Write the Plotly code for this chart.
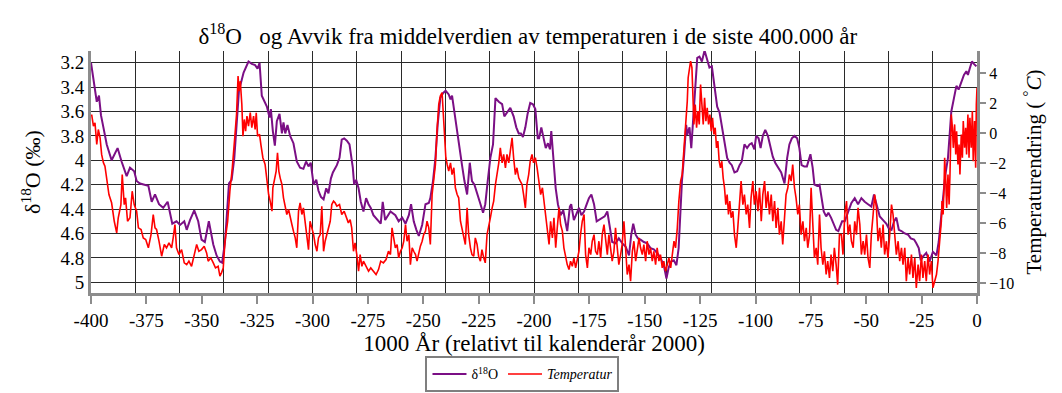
import plotly.graph_objects as go

# ---- data ----
d18o_years = [-400.0, -398.9, -397.4, -396.4, -395.5, -394.4, -392.9, -390.7, -388.0, -386.2,
              -383.9, -382.4, -380.5, -379.4, -377.9, -374.1, -372.6, -371.1, -369.3, -367.4,
              -365.4, -363.3, -361.4, -359.8, -357.9, -356.8, -355.3, -353.4, -351.6, -350.1,
              -348.6, -346.8, -344.8, -343.3, -341.8, -340.8, -339.5, -337.7, -336.5, -335.3,
              -334.3, -333.2, -331.1, -328.9, -327.4, -325.9, -324.8, -323.9, -322.9, -321.4,
              -320.6, -319.4, -318.8, -317.9, -317.0, -316.1, -314.9, -313.8, -313.1, -312.3,
              -311.3, -310.1, -308.6, -307.1, -305.6, -304.1, -302.9, -301.8, -300.8, -299.5,
              -298.3, -297.3, -296.2, -295.0, -293.8, -292.8, -291.7, -290.8, -289.0, -287.8,
              -286.8, -285.7, -284.5, -283.3, -281.8, -281.2, -280.3, -279.2, -278.2, -277.0,
              -275.8, -274.7, -273.7, -272.5, -270.7, -269.2, -268.3, -267.2, -264.8, -262.6,
              -261.1, -259.5, -258.0, -256.5, -255.5, -254.3, -253.1, -252.0, -250.5, -249.0,
              -247.5, -246.8, -245.6, -244.5, -243.5, -242.3, -241.1, -239.9, -238.5, -237.7,
              -237.0, -235.9, -234.8, -233.6, -232.5, -231.4, -230.2, -229.0, -228.0, -226.9,
              -225.7, -224.5, -223.0, -222.0, -220.9, -219.7, -218.5, -217.4, -215.9, -214.4,
              -213.4, -212.2, -210.7, -209.2, -208.0, -206.9, -205.9, -205.0, -203.9, -202.9,
              -201.7, -200.5, -199.4, -198.3, -197.7, -196.7, -195.5, -194.7, -193.7, -192.8,
              -192.2, -191.3, -190.2, -189.2, -188.0, -186.8, -185.7, -185.0, -183.8, -183.2,
              -182.0, -180.8, -179.7, -178.6, -177.4, -176.2, -175.2, -174.1, -172.9, -171.7,
              -170.7, -169.2, -168.1, -166.9, -165.7, -164.7, -163.2, -161.7, -160.2, -158.6,
              -157.1, -156.1, -155.2, -154.1, -153.1, -151.9, -150.4, -148.9, -147.4, -145.9,
              -144.4, -142.9, -141.4, -140.2, -139.2, -138.1, -136.9, -135.7, -134.7, -134.0,
              -133.2, -132.2, -131.3, -130.8, -129.8, -129.0, -128.3, -127.5, -126.3, -125.3,
              -124.2, -123.0, -121.8, -120.8, -119.7, -118.5, -117.3, -116.2, -115.2, -114.0,
              -112.8, -111.7, -110.7, -109.5, -108.3, -107.2, -106.2, -105.0, -103.8, -102.7,
              -101.7, -100.5, -99.7, -98.6, -97.7, -96.7, -95.6, -94.4, -93.2, -92.2,
              -91.1, -89.9, -88.4, -86.9, -85.7, -84.7, -83.6, -82.4, -81.2, -80.2,
              -79.2, -78.0, -76.8, -75.2, -74.2, -73.4, -72.2, -71.1, -70.1, -69.2,
              -68.1, -67.1, -65.9, -64.7, -63.6, -62.6, -60.9, -59.7, -58.2, -56.7,
              -55.2, -53.7, -52.2, -50.7, -49.2, -47.7, -46.5, -45.4, -43.9, -42.4,
              -40.9, -39.8, -38.6, -37.4, -36.4, -35.3, -34.1, -32.6, -31.1, -29.9,
              -28.4, -27.4, -26.3, -25.4, -24.4, -22.9, -21.4, -19.9, -18.3, -17.3,
              -16.4, -15.3, -14.3, -13.1, -12.3, -11.6, -10.4, -9.3, -8.3, -7.1,
              -5.9, -4.8, -4.1, -3.3, -2.3, -1.4, -0.3]
d18o_values = [3.20, 3.35, 3.52, 3.47, 3.63, 3.73, 3.87, 4.00, 3.90, 4.01,
               4.13, 4.06, 4.09, 4.17, 4.19, 4.21, 4.34, 4.28, 4.36, 4.39,
               4.34, 4.52, 4.50, 4.53, 4.50, 4.57, 4.49, 4.41, 4.50, 4.65,
               4.67, 4.50, 4.69, 4.78, 4.83, 4.84, 4.67, 4.19, 4.16, 3.98,
               3.68, 3.43, 3.28, 3.19, 3.21, 3.22, 3.25, 3.20, 3.47, 3.53,
               3.56, 3.65, 3.58, 3.76, 3.88, 3.68, 3.62, 3.78, 3.69, 3.78,
               3.71, 3.80, 3.86, 4.01, 4.06, 4.07, 4.01, 4.05, 4.02, 4.20,
               4.16, 4.25, 4.30, 4.32, 4.23, 4.27, 4.15, 4.10, 4.04, 3.98,
               3.83, 3.82, 3.84, 3.87, 4.06, 4.20, 4.16, 4.23, 4.34, 4.42,
               4.31, 4.36, 4.39, 4.45, 4.49, 4.52, 4.34, 4.49, 4.42, 4.45,
               4.50, 4.47, 4.52, 4.45, 4.36, 4.50, 4.57, 4.62, 4.53, 4.36,
               4.35, 4.31, 4.17, 3.98, 3.71, 3.49, 3.45, 3.43, 3.46, 3.50,
               3.47, 3.62, 3.73, 3.90, 4.04, 4.17, 4.28, 4.02, 4.17, 4.20,
               4.28, 4.34, 4.43, 4.36, 4.17, 3.98, 3.87, 3.49, 3.52, 3.54,
               3.64, 3.61, 3.57, 3.64, 3.73, 3.78, 3.78, 3.81, 3.73, 3.62,
               3.53, 3.54, 3.58, 3.82, 3.82, 3.73, 3.84, 3.90, 3.86, 3.91,
               3.76, 4.01, 4.23, 4.36, 4.45, 4.41, 4.50, 4.58, 4.38, 4.36,
               4.49, 4.43, 4.39, 4.45, 4.42, 4.36, 4.31, 4.28, 4.36, 4.50,
               4.49, 4.47, 4.46, 4.42, 4.56, 4.67, 4.68, 4.64, 4.68, 4.71,
               4.78, 4.61, 4.52, 4.61, 4.64, 4.65, 4.67, 4.68, 4.72, 4.73,
               4.76, 4.80, 4.86, 4.97, 4.88, 4.83, 4.82, 4.86, 4.72, 4.39,
               4.17, 3.95, 3.71, 3.79, 3.73, 3.90, 3.71, 3.46, 3.16, 3.15,
               3.19, 3.10, 3.19, 3.24, 3.23, 3.38, 3.56, 3.61, 3.73, 3.84,
               3.98, 4.02, 4.04, 4.10, 4.09, 4.04, 4.01, 3.87, 3.90, 3.87,
               3.86, 3.91, 3.80, 3.82, 3.90, 3.80, 3.75, 3.80, 3.90, 3.97,
               4.02, 4.06, 4.10, 4.19, 3.98, 3.87, 3.82, 3.80, 3.82, 3.90,
               4.04, 4.05, 4.05, 3.95, 4.06, 4.20, 4.21, 4.20, 4.34, 4.42,
               4.46, 4.43, 4.47, 4.53, 4.57, 4.58, 4.50, 4.50, 4.42, 4.35,
               4.31, 4.36, 4.31, 4.34, 4.36, 4.38, 4.28, 4.36, 4.46, 4.49,
               4.52, 4.56, 4.57, 4.50, 4.47, 4.57, 4.58, 4.60, 4.61, 4.64,
               4.65, 4.68, 4.72, 4.82, 4.79, 4.76, 4.83, 4.75, 4.78, 4.67,
               4.50, 4.28, 4.12, 3.98, 3.79, 3.60, 3.49, 3.39, 3.42, 3.35,
               3.30, 3.27, 3.30, 3.25, 3.19, 3.21, 3.23]

temp_years = [-399.7, -398.9, -398.2, -397.4, -396.7, -395.9, -395.2, -394.4, -393.7, -392.9,
              -391.9, -390.7, -389.5, -388.4, -387.7, -386.5, -385.9, -385.0, -384.4, -383.5,
              -382.4, -381.4, -380.5, -379.4, -378.6, -377.4, -376.4, -375.3, -374.1, -372.9,
              -371.9, -371.1, -370.4, -369.3, -368.1, -366.9, -365.9, -364.8, -363.6, -362.9,
              -362.1, -361.4, -360.3, -359.1, -357.9, -356.8, -355.8, -354.6, -353.4, -352.3,
              -351.3, -350.1, -348.9, -347.8, -347.1, -345.9, -344.8, -343.8, -342.6, -341.8,
              -341.1, -340.3, -339.5, -338.3, -337.3, -336.2, -335.0, -334.3, -333.6, -333.2,
              -332.6, -331.9, -331.4, -330.8, -330.2, -329.6, -328.9, -328.1, -327.4, -326.6,
              -325.9, -325.4, -324.8, -323.9, -323.3, -322.4, -321.4, -320.6, -319.8, -319.1,
              -318.3, -317.9, -317.3, -316.4, -315.8, -315.2, -314.6, -313.8, -313.1, -312.3,
              -311.6, -310.8, -310.1, -309.3, -308.6, -307.8, -307.1, -306.3, -305.6, -304.8,
              -304.1, -303.3, -302.6, -301.8, -301.1, -300.3, -299.5, -298.8, -298.0, -297.3,
              -296.5, -295.8, -295.0, -294.3, -293.5, -292.8, -292.0, -291.3, -290.5, -289.8,
              -289.0, -287.8, -286.8, -285.7, -284.8, -283.8, -283.0, -282.3, -281.5, -280.8,
              -280.0, -279.2, -278.5, -277.7, -277.0, -275.8, -274.7, -273.7, -272.5, -271.3,
              -270.2, -269.2, -268.0, -266.8, -265.7, -264.8, -264.1, -263.3, -262.6, -261.8,
              -261.1, -260.3, -259.5, -258.8, -258.0, -257.3, -256.5, -255.8, -255.0, -254.3,
              -253.5, -252.8, -252.0, -251.3, -250.5, -249.8, -249.0, -248.3, -247.5, -246.8,
              -246.0, -245.3, -244.5, -243.8, -243.0, -242.3, -241.5, -241.1, -240.5, -239.8,
              -239.2, -238.5, -237.7, -237.0, -236.2, -235.5, -234.7, -234.0, -233.2, -232.5,
              -231.7, -231.0, -230.2, -229.5, -228.7, -228.0, -227.2, -226.5, -225.7, -225.0,
              -224.2, -223.5, -222.7, -222.0, -221.2, -220.5, -219.7, -218.9, -218.2, -217.4,
              -216.7, -215.9, -215.2, -214.4, -213.7, -212.9, -212.2, -211.4, -210.7, -209.9,
              -209.2, -208.4, -207.7, -206.9, -206.2, -205.4, -204.7, -203.9, -203.2, -202.4,
              -201.7, -200.9, -200.2, -199.4, -198.6, -197.9, -197.0, -196.2, -195.5, -194.7,
              -194.0, -193.2, -192.5, -191.7, -191.0, -190.2, -189.5, -188.7, -188.0, -187.2,
              -186.5, -185.7, -185.0, -184.2, -183.5, -182.7, -182.0, -181.2, -180.5, -179.7,
              -179.0, -178.2, -177.4, -176.7, -175.9, -175.2, -174.4, -173.7, -172.9, -172.2,
              -171.4, -170.7, -169.9, -169.2, -168.4, -167.7, -166.9, -166.2, -165.4, -164.7,
              -163.9, -163.2, -162.4, -161.7, -160.9, -160.2, -159.4, -158.6, -157.9, -157.1,
              -156.4, -155.6, -154.9, -154.1, -153.4, -152.6, -151.9, -151.1, -150.4, -149.6,
              -148.9, -148.1, -147.4, -146.6, -145.9, -145.1, -144.4, -143.6, -142.9, -142.1,
              -141.4, -140.6, -139.8, -139.1, -138.3, -137.6, -136.8, -136.1, -135.3, -134.6,
              -133.8, -133.1, -132.3, -131.6, -130.8, -130.4, -129.9, -129.3, -128.7, -128.3,
              -127.8, -127.2, -126.6, -126.0, -125.4, -124.8, -124.2, -123.6, -123.0, -122.4,
              -121.8, -121.2, -120.6, -120.0, -119.4, -118.8, -118.2, -117.6, -117.0, -116.4,
              -115.8, -115.2, -114.6, -114.0, -113.4, -112.8, -112.2, -111.6, -111.0, -110.2,
              -109.5, -108.7, -108.0, -107.2, -106.5, -105.7, -105.0, -104.2, -103.5, -102.7,
              -102.0, -101.2, -100.5, -99.7, -98.9, -98.2, -97.4, -96.7, -95.9, -95.2,
              -94.4, -93.7, -92.9, -92.2, -91.4, -90.7, -89.9, -89.2, -88.4, -87.7,
              -86.9, -86.2, -85.4, -84.7, -83.9, -83.2, -82.4, -81.7, -80.9, -80.2,
              -79.4, -78.6, -77.9, -77.1, -76.4, -75.6, -74.9, -74.1, -73.4, -72.6,
              -71.9, -71.1, -70.4, -69.6, -68.9, -68.1, -67.4, -66.6, -65.9, -65.1,
              -64.4, -63.6, -62.9, -62.1, -61.2, -60.5, -59.7, -58.9, -58.2, -57.4,
              -56.7, -55.9, -55.2, -54.4, -53.7, -52.9, -52.2, -51.4, -50.7, -49.9,
              -49.2, -48.4, -47.7, -46.9, -46.2, -45.4, -44.7, -43.9, -43.2, -42.4,
              -41.7, -40.9, -40.2, -39.4, -38.6, -37.9, -37.1, -36.4, -35.6, -34.9,
              -34.1, -33.4, -32.6, -31.9, -31.1, -30.4, -29.6, -28.9, -28.1, -27.4,
              -26.6, -25.9, -25.1, -24.4, -23.6, -22.9, -22.1, -21.4, -20.6, -19.9,
              -19.1, -18.3, -17.6, -16.8, -16.1, -15.8, -15.3, -14.9, -14.6, -14.1,
              -13.7, -13.1, -12.6, -12.2, -11.9, -11.6, -11.1, -10.7, -10.1, -9.6,
              -9.2, -8.6, -8.1, -7.7, -7.1, -6.6, -6.2, -5.6, -5.1, -4.7,
              -4.1, -3.6, -3.2, -2.6, -2.1, -1.7, -1.1, -0.6, -0.3, 0.0]
temp_values = [1.24, 0.47, 0.69, -0.76, 0.24, -0.31, -1.42, -1.97, -2.20, -3.20,
               -4.09, -4.64, -5.87, -6.64, -5.64, -4.76, -2.76, -4.76, -4.31, -5.87,
               -5.64, -3.87, -4.76, -5.20, -6.31, -6.42, -6.98, -7.09, -7.64, -6.76,
               -5.42, -6.31, -6.42, -7.20, -8.20, -7.42, -7.64, -7.31, -7.64, -6.98,
               -6.09, -7.64, -8.09, -7.76, -8.64, -8.76, -8.53, -8.87, -8.09, -7.42,
               -7.87, -7.76, -7.53, -7.98, -8.53, -8.31, -8.64, -8.98, -8.87, -9.53,
               -9.31, -8.98, -7.20, -5.87, -3.87, -2.31, -0.09, 1.24, 3.80, 2.80,
               3.47, 1.91, -0.20, 0.91, 0.13, 1.13, 0.47, 1.36, 0.36, 1.13,
               0.24, 1.36, -0.20, -0.09, -0.76, -1.64, -2.09, -3.09, -4.09, -4.53,
               -5.20, -3.64, -3.20, -2.53, -1.31, -2.53, -2.98, -3.42, -4.31, -4.98,
               -5.42, -5.09, -5.64, -6.09, -6.53, -6.98, -7.64, -5.20, -4.64, -5.42,
               -4.98, -5.87, -6.53, -7.76, -5.87, -6.31, -6.76, -7.42, -7.87, -6.98,
               -6.76, -4.87, -7.87, -7.20, -6.76, -6.31, -5.87, -4.76, -4.53, -4.64,
               -4.87, -4.76, -5.42, -5.20, -5.64, -5.98, -5.76, -6.31, -7.87, -7.31,
               -8.09, -9.20, -8.09, -8.87, -8.53, -8.87, -9.20, -8.98, -9.20, -9.42,
               -9.09, -8.53, -8.64, -8.42, -7.87, -8.09, -6.31, -6.98, -7.64, -7.42,
               -8.31, -7.87, -7.64, -7.20, -6.09, -7.20, -6.76, -8.76, -7.64, -7.87,
               -8.09, -8.53, -7.98, -7.53, -7.20, -6.76, -6.53, -5.87, -6.31, -7.42,
               -4.09, -3.20, -2.09, 0.13, 1.91, 2.47, 2.69, 1.69, 0.13, -1.64,
               -2.09, -2.53, -1.98, -2.76, -2.31, -3.64, -4.09, -4.31, -5.87, -6.31,
               -6.76, -7.42, -4.98, -6.76, -7.64, -8.09, -8.20, -6.98, -7.42, -8.20,
               -8.53, -7.76, -8.31, -8.64, -6.76, -6.31, -5.64, -4.98, -4.53, -3.42,
               -2.76, -1.98, -0.98, -1.98, -1.42, -2.31, -1.42, -1.98, -1.20, -0.31,
               -1.64, -2.76, -2.31, -2.98, -3.20, -3.42, -4.09, -4.98, -3.42, -2.76,
               -1.87, -1.42, -1.98, -1.64, -2.31, -2.98, -4.09, -3.64, -4.53, -5.42,
               -6.31, -7.42, -5.87, -6.98, -5.64, -7.64, -6.31, -4.98, -6.09, -6.53,
               -7.64, -8.31, -8.76, -9.09, -8.53, -8.87, -8.31, -8.98, -8.42, -7.87,
               -6.76, -5.87, -5.42, -8.09, -8.98, -7.64, -8.09, -7.20, -6.76, -7.87,
               -8.09, -7.20, -8.31, -6.76, -6.09, -7.20, -8.09, -6.76, -7.64, -8.53,
               -7.87, -6.31, -7.64, -8.76, -8.09, -7.42, -5.87, -8.31, -9.42, -8.76,
               -9.87, -7.87, -7.20, -8.53, -7.87, -6.98, -7.64, -8.09, -7.42, -8.53,
               -7.20, -8.09, -7.64, -8.53, -7.87, -8.76, -7.64, -8.53, -8.09, -8.98,
               -8.53, -9.20, -8.76, -8.31, -8.98, -8.09, -7.20, -7.64, -6.31, -4.53,
               -3.20, -2.76, -0.98, -0.09, 2.13, 3.69, 4.13, 4.80, 4.36, 3.02,
               0.58, 1.91, 0.36, 1.47, 0.58, 3.24, 1.91, 0.58, 2.36, 0.80,
               1.69, 0.58, 1.24, 0.13, 1.02, -0.09, 0.36, -0.98, -0.53, -1.87,
               -2.31, -1.87, -2.98, -3.64, -4.76, -4.09, -5.42, -4.53, -5.64, -5.20,
               -6.76, -7.64, -6.31, -4.31, -3.20, -4.76, -4.09, -5.42, -4.76, -6.31,
               -4.31, -3.20, -4.76, -3.87, -5.20, -3.64, -5.87, -4.09, -3.20, -4.98,
               -3.87, -5.42, -4.09, -5.87, -4.53, -6.31, -4.98, -6.76, -5.87, -7.42,
               -5.42, -4.09, -3.64, -2.76, -3.20, -2.09, -3.64, -4.31, -5.42, -4.76,
               -6.76, -5.87, -7.20, -6.31, -7.64, -6.76, -3.64, -6.76, -8.31, -7.64,
               -8.76, -5.42, -7.64, -8.76, -7.87, -9.42, -8.53, -9.64, -8.09, -9.20,
               -7.64, -8.76, -10.09, -6.76, -6.76, -8.09, -5.42, -4.53, -6.76, -6.09,
               -7.20, -7.64, -5.87, -6.76, -4.98, -6.09, -8.09, -7.20, -8.09, -6.76,
               -8.31, -8.98, -6.76, -5.42, -4.09, -4.98, -7.20, -6.31, -7.64, -6.09,
               -8.09, -7.20, -8.31, -6.76, -4.76, -5.42, -6.76, -8.09, -7.20, -8.53,
               -7.64, -8.76, -7.64, -9.87, -8.31, -9.42, -8.09, -9.64, -8.31, -10.31,
               -8.76, -9.87, -8.09, -9.64, -8.53, -9.87, -8.09, -9.42, -8.53, -10.31,
               -9.87, -9.42, -8.53, -7.20, -5.87, -4.53, -5.42, -3.64, -1.64, -3.20,
               -4.98, -2.76, -4.76, -2.76, -0.98, 1.24, 0.36, -0.98, 0.58, -1.42,
               0.13, -2.09, -0.76, -2.76, -0.09, -1.64, 0.80, -0.98, 0.36, -1.42,
               1.24, -1.64, 1.02, -0.98, 1.47, -1.87, 0.80, -2.31, 1.91, 3.02]

x_tick_vals = [-400, -375, -350, -325, -300, -275, -250, -225, -200,
               -175, -150, -125, -100, -75, -50, -25, 0]
x_tick_text = ["-400", "-375", "-350", "-325", "-300", "-275", "-250", "-225", "-200",
               "-175", "-150", "-125", "-100", "-75", "-50", "-25", "0"]
left_tick_vals = [3.2, 3.4, 3.6, 3.8, 4.0, 4.2, 4.4, 4.6, 4.8, 5.0]
left_tick_text = ["3.2", "3.4", "3.6", "3.8", "4", "4.2", "4.4", "4.6", "4.8", "5"]
right_tick_vals = [4, 2, 0, -2, -4, -6, -8, -10]

FONT = "Liberation Serif, Times New Roman, serif"
AXIS_GREY = "#8c8c8c"
GRID = "#2a2a2a"

fig = go.Figure()
fig.add_trace(go.Scatter(
    x=d18o_years, y=d18o_values, mode="lines", name="δ<sup>18</sup>O",
    line=dict(color="#7b0f85", width=2), xaxis="x", yaxis="y"))
fig.add_trace(go.Scatter(
    x=temp_years, y=temp_values, mode="lines", name="<i>Temperatur</i>",
    line=dict(color="#ff0000", width=1.6), xaxis="x", yaxis="y2"))
# empty helper trace so that the labelled x axis (x2) is created
fig.add_trace(go.Scatter(x=[], y=[], xaxis="x2", yaxis="y", showlegend=False,
                         hoverinfo="skip", mode="lines"))

# the page body adds an 8 px margin, so the figure is 8 px smaller each way
fig.update_layout(
    width=1054, height=385,
    margin=dict(l=83, r=85, t=43, b=100, autoexpand=False),
    paper_bgcolor="white", plot_bgcolor="white",
    font=dict(family=FONT, color="black", size=19),
    title=dict(text="δ<sup>18</sup>O   og Avvik fra middelverdien av temperaturen i de siste 400.000 år",
               x=0.493, xref="paper", xanchor="center",
               y=0.927, yref="container", yanchor="middle",
               font=dict(family=FONT, size=23, color="black")),
    xaxis=dict(range=[-400, 0], dtick=20, tick0=0, showgrid=True, gridcolor=GRID, gridwidth=1,
               showticklabels=False, ticks="", zeroline=False, showline=False, automargin=False),
    xaxis2=dict(range=[-400, 0], overlaying="x", anchor="y", side="bottom",
                tickmode="array", tickvals=x_tick_vals, ticktext=x_tick_text,
                ticks="outside", ticklen=8, tickwidth=1.5, tickcolor=AXIS_GREY,
                showgrid=False, zeroline=False, automargin=False,
                showline=True, linecolor=AXIS_GREY, linewidth=2.5,
                tickfont=dict(family=FONT, size=19, color="black"),
                title=dict(text="1000 År (relativt til kalenderår 2000)",
                           font=dict(family=FONT, size=23, color="black"), standoff=0)),
    yaxis=dict(range=[5.088, 3.104], tickmode="array", tickvals=left_tick_vals,
               ticktext=left_tick_text, showgrid=True, gridcolor=GRID, gridwidth=1,
               ticks="", zeroline=False, showline=True, linecolor=AXIS_GREY, linewidth=3,
               automargin=False,
               tickfont=dict(family=FONT, size=19, color="black"),
               title=dict(text="δ<sup>18</sup>O (‰)", font=dict(family=FONT, size=22, color="black"),
                          standoff=14)),
    yaxis2=dict(range=[-10.65, 5.47], overlaying="y", side="right", anchor="x",
                tickmode="array", tickvals=right_tick_vals, automargin=False,
                ticks="outside", ticklen=6, tickwidth=1.5, tickcolor=AXIS_GREY,
                showgrid=False, zeroline=False, showline=True, linecolor=AXIS_GREY, linewidth=3,
                tickfont=dict(family=FONT, size=16, color="black"),
                title=dict(text="Temperaturendring ( <sup>°</sup><i>C</i>)",
                           font=dict(family=FONT, size=21, color="black"), standoff=14)),
    legend=dict(orientation="h", x=0.487, xanchor="center", y=-0.262, yanchor="top",
                bgcolor="white", bordercolor="#7f7f7f", borderwidth=2,
                font=dict(family=FONT, size=14, color="black"),
                itemwidth=34, tracegroupgap=0),
    showlegend=True,
)

fig.write_html("out.html")
